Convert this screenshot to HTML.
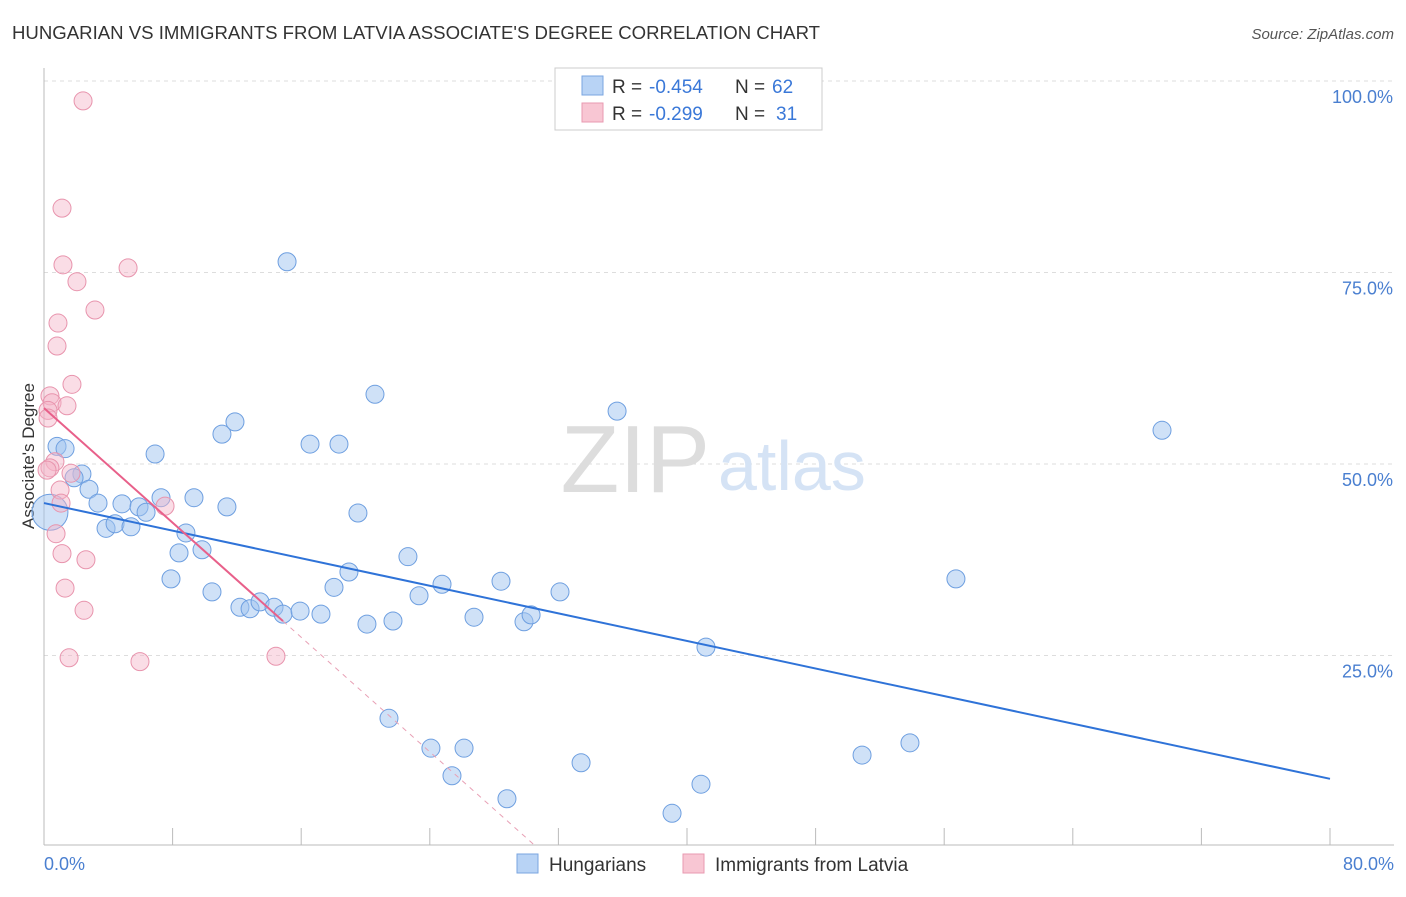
<!DOCTYPE html>
<html><head><meta charset="utf-8"><style>
body{margin:0;background:#fff;font-family:"Liberation Sans",sans-serif;}
svg text{font-family:"Liberation Sans",sans-serif;}
</style></head><body>
<svg id="chart" width="1406" height="892" viewBox="0 0 1406 892">
<text x="12" y="39" font-size="18.6" fill="#333">HUNGARIAN VS IMMIGRANTS FROM LATVIA ASSOCIATE'S DEGREE CORRELATION CHART</text>
<text x="1394" y="39" font-size="15" fill="#555" text-anchor="end" font-style="italic">Source: ZipAtlas.com</text>
<g id="grid"></g>
<text x="710" y="492" font-size="96" fill="#ddd" text-anchor="end" font-family="Liberation Serif">ZIP</text>
<text x="718" y="490" font-size="70" fill="#d5e3f5">atlas</text>
<line x1="44" y1="68" x2="44" y2="845" stroke="#bbb"/>
<line x1="44" y1="845" x2="1394" y2="845" stroke="#bbb"/>
<g id="ticks"></g>
<text x="34" y="456" font-size="17" fill="#333" text-anchor="middle" transform="rotate(-90 34 456)">Associate's Degree</text>
<text x="44" y="870" font-size="18" fill="#4a7fd0">0.0%</text>
<text x="1394" y="870" font-size="18" fill="#4a7fd0" text-anchor="end">80.0%</text>
<g id="pts"></g>
<g id="lines"></g>
<g>
<rect x="555" y="68" width="267" height="62" fill="#fff" stroke="#ccc"/>
<rect x="582" y="76" width="21" height="19" fill="#b8d3f5" stroke="#7aa6e0"/>
<rect x="582" y="103" width="21" height="19" fill="#f8c6d3" stroke="#e89ab0"/>
<text x="612" y="93" font-size="19" fill="#333">R =</text>
<text x="649" y="93" font-size="19" fill="#3a78d8">-0.454</text>
<text x="735" y="93" font-size="19" fill="#333">N =</text>
<text x="772" y="93" font-size="19" fill="#3a78d8">62</text>
<text x="612" y="120" font-size="19" fill="#333">R =</text>
<text x="649" y="120" font-size="19" fill="#3a78d8">-0.299</text>
<text x="735" y="120" font-size="19" fill="#333">N =</text>
<text x="776" y="120" font-size="19" fill="#3a78d8">31</text>
</g>
<g>
<rect x="517" y="854" width="21" height="19" fill="#b8d3f5" stroke="#7aa6e0"/>
<text x="549" y="871" font-size="19" fill="#333">Hungarians</text>
<rect x="683" y="854" width="21" height="19" fill="#f8c6d3" stroke="#e89ab0"/>
<text x="715" y="871" font-size="19" fill="#333">Immigrants from Latvia</text>
</g>
</svg>
<script>
const yTicks=[25,50,75,100];
const yTickLabels=["25.0%","50.0%","75.0%","100.0%"];
const xTickVals=[0,8,16,24,32,40,48,56,64,72,80];
const blueX=[0.81,1.31,2.36,1.87,2.80,3.36,3.86,4.42,4.85,5.41,5.91,6.35,6.91,7.28,7.90,8.40,8.83,9.33,9.83,10.45,11.07,11.38,11.88,12.19,12.82,13.44,14.31,14.87,15.12,15.93,16.55,17.23,18.04,18.35,18.97,19.53,20.09,20.59,21.46,21.71,22.64,23.33,24.07,24.76,25.38,26.13,26.75,28.43,28.80,29.86,30.30,32.10,33.41,35.65,39.07,40.87,41.18,50.89,53.87,56.73,69.55,0.37];
const blueY=[52.3,52.0,48.7,48.2,46.7,44.9,41.6,42.2,44.8,41.8,44.4,43.7,51.3,45.6,35.0,38.4,41.0,45.6,38.8,33.3,53.9,44.4,55.5,31.3,31.1,32.0,31.3,30.4,76.4,30.8,52.6,30.4,33.9,52.6,35.9,43.6,29.1,59.1,16.8,29.5,37.9,32.8,12.9,34.3,9.3,12.9,30.0,34.7,6.3,29.4,30.3,33.3,11.0,56.9,4.4,8.2,26.1,12.0,13.6,35.0,54.4,43.7];
const pinkX=[2.43,1.12,1.18,5.23,2.05,3.17,0.87,0.81,1.74,0.37,0.50,1.43,0.25,0.25,0.68,0.37,0.19,1.68,1.0,1.06,7.53,0.75,1.12,2.61,1.31,2.49,1.56,5.97,14.43];
const pinkY=[97.4,83.4,76.0,75.6,73.8,70.1,68.4,65.4,60.4,58.9,58.0,57.6,57.0,56.0,50.3,49.5,49.2,48.8,46.6,44.9,44.5,40.9,38.3,37.5,33.8,30.9,24.7,24.2,24.9];
const blueLine=[44.9,8.9];
const pinkLine=[57.3,-1.87,14.87];
const NS="http://www.w3.org/2000/svg";
const X=v=>44+v*1286/80, Y=v=>847-v*7.66;
function mk(p,t,a){const e=document.createElementNS(NS,t);for(const k in a)e.setAttribute(k,a[k]);p.appendChild(e);return e;}
const grid=document.getElementById('grid');
const topLine=mk(grid,'line',{x1:44,x2:1394,y1:81,y2:81,stroke:'#ddd','stroke-dasharray':'4,4'});


yTicks.forEach((t,i)=>{
 const l=mk(grid,'line',{x1:44,x2:1394,y1:Y(t),y2:Y(t),stroke:'#ddd','stroke-dasharray':'4,4'});
 
 
 const tx=mk(grid,'text',{x:1393,y:Y(t)+22,'font-size':18,fill:'#4a7fd0','text-anchor':'end'});
 tx.textContent=yTickLabels[i];
 
 
});
const tk=document.getElementById('ticks');
xTickVals.forEach(v=>{
 const l=mk(tk,'line',{x1:X(v),x2:X(v),y1:828,y2:845,stroke:'#bbb'});
 
 
});
const pts=document.getElementById('pts');
blueX.forEach((x,i)=>{
 const big=i===blueX.length-1;
 const c=mk(pts,'circle',{cx:X(x),cy:Y(blueY[i]),r:big?18:9,fill:'rgba(160,196,240,0.5)',stroke:'#6e9fe0','stroke-width':1});
 
 
});
pinkX.forEach((x,i)=>{
 const c=mk(pts,'circle',{cx:X(x),cy:Y(pinkY[i]),r:9,fill:'rgba(245,180,200,0.45)',stroke:'#e894ad','stroke-width':1});
 
 
});
const ln=document.getElementById('lines');
const bl=mk(ln,'line',{x1:X(0),y1:Y(blueLine[0]),x2:X(80),y2:Y(blueLine[1]),stroke:'#2f73d8','stroke-width':2});


const pe=pinkLine[2], pz=-pinkLine[0]/pinkLine[1];
const pl=mk(ln,'line',{x1:X(0),y1:Y(pinkLine[0]),x2:X(pe),y2:Y(pinkLine[0]+pinkLine[1]*pe),stroke:'#e8608a','stroke-width':2});


const pd=mk(ln,'line',{x1:X(pe),y1:Y(pinkLine[0]+pinkLine[1]*pe),x2:X(pz),y2:Y(0),stroke:'#e8a0b5','stroke-width':1,'stroke-dasharray':'5,5'});


</script>
</body></html>
